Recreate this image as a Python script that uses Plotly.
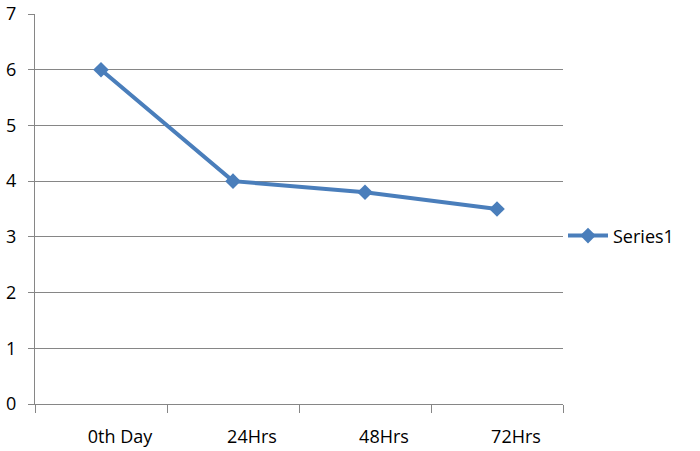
import plotly.graph_objects as go

categories = ["0th Day", "24Hrs", "48Hrs", "72Hrs"]
series1 = [6, 4, 3.8, 3.5]
y_ticks = [0, 1, 2, 3, 4, 5, 6, 7]

fig = go.Figure()
fig.add_trace(go.Scatter(
    x=categories, y=series1, name="Series1", mode="lines+markers",
    line=dict(color="#4A7EBB", width=4),
    marker=dict(symbol="diamond", size=12, color="#4A7EBB"),
))

fnt = dict(family="Open Sans, Noto Sans, sans-serif", size=18, color="#000000")
fig.update_layout(
    width=700, height=451,
    margin=dict(l=35, r=137, t=14, b=47),
    paper_bgcolor="white", plot_bgcolor="white",
    font=fnt,
    showlegend=True,
    legend=dict(x=1.0, xanchor="left", y=0.431, yanchor="middle",
                font=fnt, itemwidth=40, bgcolor="rgba(0,0,0,0)"),
    xaxis=dict(
        type="category", range=[-0.5, 3.5], tickson="boundaries",
        ticks="outside", ticklen=8, tickcolor="#868686", tickwidth=1,
        showline=True, linecolor="#868686", linewidth=1,
        showgrid=False, ticklabelstandoff=16, ticklabelshift=19,
        tickfont=fnt, automargin=False,
    ),
    yaxis=dict(
        range=[0, 7], tickvals=y_ticks,
        ticks="outside", ticklen=6, tickcolor="#868686", tickwidth=1,
        showline=True, linecolor="#868686", linewidth=1,
        showgrid=True, gridcolor="#868686", gridwidth=1,
        zeroline=False, ticklabelstandoff=8, tickfont=fnt,
        automargin=False,
    ),
)

fig.write_html("out.html", post_script="document.body.style.margin='0';",
               config={"displayModeBar": False})
